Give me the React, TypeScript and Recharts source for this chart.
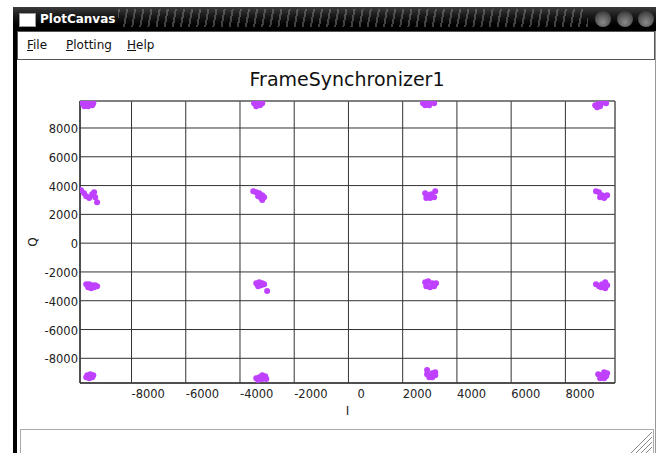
import React from "react";
import {
  CartesianGrid,
  ReferenceArea,
  Scatter,
  ScatterChart,
  XAxis,
  YAxis,
} from "recharts";

// constellation samples, one pair of arrays per Q row (left to right)
const iTop = [-9820, -9670, -9520, -9410, -9740, -9600, -9450, -3480, -3330, -3180, -3400, -3260, 2750, 2900, 3050, 3160, 2830, 2980, 9100, 9210, 9320, 9430, 9500, 9170, 9280];
const qTop = [9720, 9790, 9790, 9720, 9510, 9510, 9580, 9720, 9790, 9720, 9510, 9580, 9720, 9720, 9790, 9720, 9580, 9580, 9580, 9650, 9720, 9790, 9720, 9440, 9510];

const iUpper = [-9860, -9750, -9670, -9560, -9450, -9380, -9340, -9270, -3510, -3400, -3290, -3180, -3330, -3220, -3110, -3180, 2830, 2940, 3050, 3200, 2870, 3010, 3160, 9130, 9240, 9350, 9470, 9540, 9280, 9430];
const qUpper = [3680, 3470, 3260, 3130, 3400, 3540, 3190, 2850, 3610, 3540, 3470, 3330, 3260, 3130, 3190, 2990, 3470, 3330, 3400, 3610, 3130, 3130, 3190, 3610, 3540, 3330, 3260, 3330, 3190, 3130];

const iLower = [-9670, -9560, -9450, -9340, -9600, -9490, -9380, -9270, -3400, -3290, -3180, -3330, -3220, -3110, -3000, 2830, 2940, 3090, 3230, 2870, 3010, 3160, 9130, 9240, 9350, 9470, 9540, 9320, 9470];
const qLower = [-2850, -2850, -2920, -2920, -3060, -3130, -3060, -2990, -2780, -2710, -2780, -2990, -2920, -2850, -3330, -2710, -2640, -2780, -2780, -2990, -3060, -2990, -2850, -2990, -2850, -2710, -2920, -3060, -3130];

const iBottom = [-9630, -9520, -9410, -9560, -9450, -9670, -3400, -3290, -3180, -3070, -3330, -3180, -3030, 2900, 2900, 2980, 3090, 3200, 3200, 3090, 9210, 9320, 9430, 9540, 9280, 9430, 9500];
const qBottom = [-9170, -9100, -9170, -9380, -9310, -9310, -9380, -9310, -9170, -9240, -9510, -9440, -9440, -8820, -9100, -9310, -9310, -9170, -8960, -9030, -9100, -9170, -8960, -9030, -9380, -9380, -9240];

const iTicks = [-8000, -6000, -4000, -2000, 0, 2000, 4000, 6000, 8000];
const qTicks = [-8000, -6000, -4000, -2000, 0, 2000, 4000, 6000, 8000];
const iDomain = [-9900, 9830];
const qDomain = [-9715, 9875];

const zip = (is: number[], qs: number[]) => is.map((v, k) => ({ i: v, q: qs[k] }));
const points = [
  ...zip(iTop, qTop),
  ...zip(iUpper, qUpper),
  ...zip(iLower, qLower),
  ...zip(iBottom, qBottom),
];

const FONT = '"DejaVu Sans", sans-serif';

function ITick({ x, y, payload }: any) {
  const nudge = payload.value === 0 ? 9 : 0;
  return (
    <text x={x + nudge} y={y + 14.5} textAnchor="start" fill="#222" fontSize={11.5} fontFamily={FONT}>
      {payload.value}
    </text>
  );
}

function QTick({ x, y, payload }: any) {
  return (
    <text x={x - 2} y={y + 5} textAnchor="end" fill="#222" fontSize={11.5} fontFamily={FONT}>
      {payload.value}
    </text>
  );
}

const dot = (p: any) => <circle cx={p.cx} cy={p.cy} r={3} fill="#bf40ff" />;

function Menu({ label, left }: { label: string; left: number }) {
  return (
    <span style={{ position: "absolute", left, top: 38, fontSize: 12, lineHeight: "14px", color: "#111" }}>
      <u>{label[0]}</u>
      {label.slice(1)}
    </span>
  );
}

export default function App() {
  return (
    <div
      style={{
        position: "fixed",
        left: 0,
        top: 0,
        width: 659,
        height: 453,
        background: "#fff",
        overflow: "hidden",
        fontFamily: FONT,
      }}
    >
      {/* window frame */}
      <div style={{ position: "absolute", left: 13, top: 7, width: 4, height: 446, background: "#000" }} />
      <div style={{ position: "absolute", left: 655, top: 7, width: 1, height: 446, background: "#999" }} />
      <div
        style={{
          position: "absolute",
          left: 13,
          top: 7,
          width: 643,
          height: 24,
          background: "linear-gradient(to bottom, #3c3c3c 0%, #1a1a1a 35%, #000 75%)",
        }}
      />
      <div
        style={{
          position: "absolute",
          left: 118,
          top: 9,
          width: 470,
          height: 18,
          background: "repeating-linear-gradient(100deg, rgba(140,140,140,0.45) 0 2px, transparent 2px 8px)",
        }}
      />
      <div style={{ position: "absolute", left: 19, top: 13, width: 15, height: 12, background: "#fff", border: "1px solid #999" }} />
      <span style={{ position: "absolute", left: 40, top: 12, fontSize: 12, lineHeight: "14px", fontWeight: "bold", color: "#fff" }}>
        PlotCanvas
      </span>
      {[595, 617, 638].map((l) => (
        <div
          key={l}
          style={{
            position: "absolute",
            left: l,
            top: 11,
            width: 16,
            height: 16,
            borderRadius: 8,
            background: "radial-gradient(circle at 50% 70%, #8a8a8a 0%, #555 55%, #222 100%)",
          }}
        />
      ))}

      {/* menu bar */}
      <div style={{ position: "absolute", left: 17, top: 31, width: 636, height: 27, border: "1px solid #555", background: "#fff" }} />
      <Menu label="File" left={27} />
      <Menu label="Plotting" left={66} />
      <Menu label="Help" left={127} />

      {/* plot title */}
      <div
        style={{
          position: "absolute",
          left: 247,
          top: 70,
          width: 200,
          textAlign: "center",
          fontSize: 19,
          lineHeight: "19px",
          color: "#111",
          whiteSpace: "nowrap",
        }}
      >
        FrameSynchronizer1
      </div>

      {/* Q axis label */}
      <div
        style={{
          position: "absolute",
          left: 26,
          top: 234,
          width: 14,
          height: 16,
          textAlign: "center",
          fontSize: 12,
          lineHeight: "16px",
          color: "#222",
          transform: "rotate(-90deg)",
        }}
      >
        Q
      </div>

      <div style={{ position: "absolute", left: 17, top: 62 }}>
        <ScatterChart width={636} height={366} margin={{ top: 39, right: 38, bottom: 12, left: 3 }}>
          <CartesianGrid stroke="#333" strokeWidth={1} />
          <XAxis
            type="number"
            dataKey="i"
            domain={iDomain}
            ticks={iTicks}
            allowDataOverflow
            interval={0}
            height={33}
            tickSize={0}
            tickMargin={0}
            tickLine={false}
            axisLine={{ stroke: "#222" }}
            tick={<ITick />}
            label={{ value: "I", position: "insideBottom", offset: 1, fill: "#222", fontSize: 12, fontFamily: FONT }}
          />
          <YAxis
            type="number"
            dataKey="q"
            domain={qDomain}
            ticks={qTicks}
            allowDataOverflow
            interval={0}
            width={60}
            tickSize={0}
            tickMargin={0}
            tickLine={false}
            axisLine={{ stroke: "#222" }}
            tick={<QTick />}
          />
          <ReferenceArea
            x1={iDomain[0]}
            x2={iDomain[1]}
            y1={qDomain[0]}
            y2={qDomain[1]}
            fill="none"
            stroke="#666"
            strokeWidth={1}
            ifOverflow="visible"
          />
          <Scatter data={points} shape={dot} isAnimationActive={false} />
        </ScatterChart>
      </div>

      {/* status / text area */}
      <div style={{ position: "absolute", left: 20, top: 429, width: 632, height: 40, border: "1px solid #aaa", background: "#fff" }} />
      <svg style={{ position: "absolute", left: 630, top: 431 }} width={22} height={22}>
        {[6, 11, 16, 21].map((o) => (
          <line key={o} x1={22 - o} y1={22} x2={22} y2={22 - o} stroke="#888" strokeWidth={1} />
        ))}
      </svg>
    </div>
  );
}
